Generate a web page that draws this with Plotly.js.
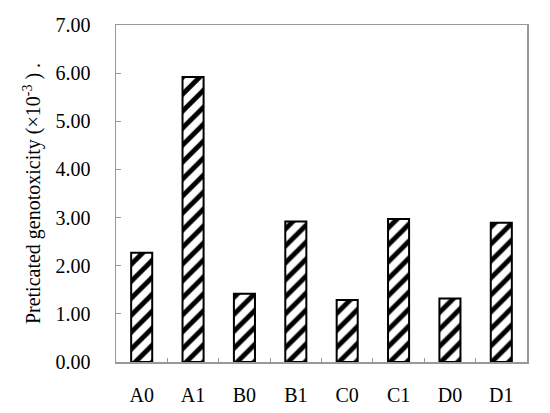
<!DOCTYPE html>
<html>
<head>
<meta charset="utf-8">
<script src="https://cdn.plot.ly/plotly-3.0.1.min.js"></script>
<style>html,body{margin:0;padding:0;background:#fff;}#chart{width:550px;height:413px;}</style>
</head>
<body>
<div id="chart"></div>
<script>
const categories = ["A0", "A1", "B0", "B1", "C0", "C1", "D0", "D1"];
const genotoxicity = [2.27, 5.92, 1.42, 2.92, 1.29, 2.97, 1.32, 2.89];
const yTickValues = [0, 1, 2, 3, 4, 5, 6, 7];
const yTickLabels = ["0.00", "1.00", "2.00", "3.00", "4.00", "5.00", "6.00", "7.00"];

const font = {family: "Liberation Serif, Times New Roman, serif", size: 20, color: "#000"};
const titleFont = {family: "Liberation Serif, Times New Roman, serif", size: 20, color: "#000"};

const trace = {
  type: "bar",
  x: categories,
  y: genotoxicity,
  marker: {
    color: "#fff",
    line: {color: "#000", width: 2},
    pattern: {shape: "/", fgcolor: "#000", bgcolor: "#fff", size: 12, solidity: 0.4, fillmode: "replace"}
  },
  hoverinfo: "none"
};

const layout = {
  width: 550, height: 413,
  margin: {l: 116, r: 23, t: 25, b: 51},
  paper_bgcolor: "#fff", plot_bgcolor: "#fff",
  font: font,
  showlegend: false,
  bargap: 0.59,
  xaxis: {
    type: "category",
    showline: true, linecolor: "#999", linewidth: 1.5,
    mirror: true,
    ticks: "inside", tickson: "boundaries", ticklen: 4, tickcolor: "#999",
    showgrid: false, zeroline: false,
    ticklabelstandoff: 14,
    tickfont: font
  },
  yaxis: {
    range: [0, 7],
    tickvals: yTickValues, ticktext: yTickLabels,
    showline: true, linecolor: "#999", linewidth: 1.5,
    mirror: true,
    ticks: "inside", ticklen: 5, tickcolor: "#999",
    showgrid: false, zeroline: false,
    ticklabelstandoff: 20,
    tickfont: font,
    title: {text: "Preticated genotoxicity (×10<sup>-3</sup> ) .", font: titleFont, standoff: 9}
  }
};

Plotly.newPlot("chart", [trace], layout, {displayModeBar: false, staticPlot: true});
</script>
</body>
</html>
